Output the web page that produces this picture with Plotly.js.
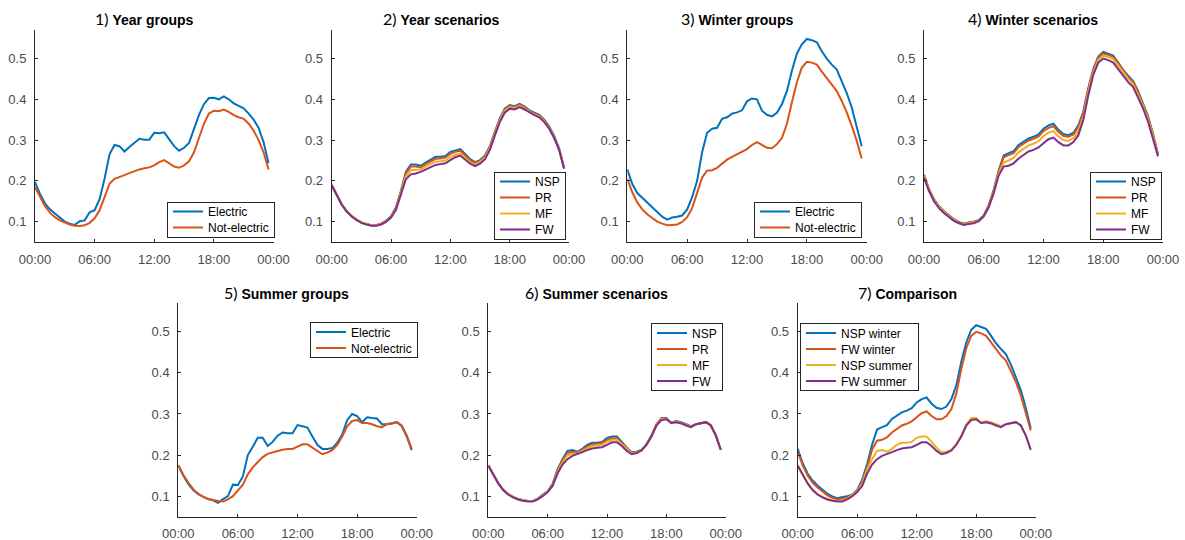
<!DOCTYPE html>
<html>
<head>
<meta charset="utf-8">
<script src="https://cdn.plot.ly/plotly-3.0.1.min.js"></script>
<style>html,body{margin:0;padding:0;background:#fff;}#chart{width:1185px;height:540px;}</style>
</head>
<body>
<div id="chart"></div>
<script>
// ---- data (half-hourly, 00:00 .. 23:30) ----
const halfHours = [0,0.5,1,1.5,2,2.5,3,3.5,4,4.5,5,5.5,6,6.5,7,7.5,8,8.5,9,9.5,10,10.5,11,11.5,
  12,12.5,13,13.5,14,14.5,15,15.5,16,16.5,17,17.5,18,18.5,19,19.5,20,20.5,21,21.5,22,22.5,23,23.5];
const xTickVals = [0,6,12,18,24];
const xTickText = ['00:00','06:00','12:00','18:00','00:00'];
const yTickVals = [0.1,0.2,0.3,0.4,0.5];

const panelTitles = ['Year groups','Year scenarios','Winter groups','Winter scenarios','Summer groups','Summer scenarios','Comparison'];
const groupNames = ['Electric','Not-electric'];
const scenarioNames = ['NSP','PR','MF','FW'];
const comparisonNames = ['NSP winter','FW winter','NSP summer','FW summer'];

const yearElectric = [.197,.168,.145,.130,.120,.110,.100,.095,.092,.101,.103,.123,.128,.155,.205,.265,.288,.285,.272,.283,.293,.303,.301,.301,
  .318,.317,.319,.303,.285,.274,.281,.293,.325,.362,.388,.403,.404,.400,.407,.400,.390,.383,.378,.365,.350,.330,.295,.243];
const yearNotElectric = [.185,.160,.138,.122,.111,.103,.097,.093,.090,.089,.091,.097,.108,.128,.160,.193,.205,.209,.214,.219,.224,.228,.231,.233,
  .238,.246,.251,.243,.235,.232,.238,.248,.270,.305,.340,.365,.372,.371,.375,.369,.361,.356,.352,.340,.323,.300,.270,.228];

const yearNSP = [.190,.165,.143,.126,.114,.105,.098,.094,.091,.091,.095,.102,.113,.135,.175,.222,.240,.240,.237,.245,.252,.259,.259,.261,
  .271,.275,.278,.266,.253,.246,.251,.262,.285,.320,.353,.377,.386,.383,.389,.382,.373,.367,.362,.350,.333,.310,.280,.232];
const yearPR = [.190,.165,.143,.126,.114,.105,.098,.094,.091,.091,.095,.101,.112,.133,.172,.218,.235,.235,.233,.241,.248,.254,.255,.257,
  .266,.271,.274,.262,.250,.244,.249,.260,.283,.318,.351,.375,.384,.381,.387,.380,.371,.365,.360,.348,.331,.308,.278,.231];
const yearMF = [.190,.165,.143,.126,.114,.105,.098,.094,.091,.091,.094,.100,.111,.131,.168,.211,.226,.227,.228,.235,.241,.247,.248,.250,
  .258,.264,.267,.257,.246,.240,.246,.257,.280,.315,.348,.372,.381,.379,.384,.377,.369,.363,.358,.346,.330,.307,.277,.231];
const yearFW = [.189,.164,.142,.125,.113,.104,.097,.093,.090,.090,.093,.099,.110,.129,.164,.204,.216,.218,.222,.228,.234,.239,.241,.243,
  .251,.258,.262,.252,.242,.236,.242,.253,.276,.311,.344,.367,.377,.375,.381,.375,.367,.361,.356,.344,.328,.305,.276,.230];

const winterElectric = [.228,.192,.170,.158,.147,.135,.122,.112,.105,.110,.112,.115,.130,.160,.200,.270,.318,.328,.330,.352,.356,.365,.368,.373,
  .395,.402,.400,.372,.362,.358,.367,.388,.420,.470,.512,.535,.548,.545,.540,.518,.500,.485,.473,.445,.415,.380,.335,.285];
const winterNotElectric = [.205,.172,.147,.130,.118,.108,.100,.095,.091,.092,.093,.099,.111,.133,.168,.208,.225,.226,.232,.242,.252,.259,.265,.270,
  .278,.288,.295,.288,.281,.280,.290,.305,.340,.392,.442,.478,.492,.490,.485,.468,.452,.436,.420,.396,.368,.335,.298,.255];

const winterNSP = [.215,.180,.155,.138,.126,.115,.106,.099,.095,.098,.100,.104,.115,.140,.178,.225,.262,.268,.273,.288,.296,.304,.308,.314,
  .328,.336,.340,.325,.315,.312,.318,.336,.370,.428,.474,.505,.516,.512,.507,.490,.472,.458,.445,.420,.390,.358,.315,.265];
const winterPR = [.214,.179,.154,.137,.125,.114,.105,.098,.094,.097,.099,.103,.114,.139,.176,.222,.258,.263,.268,.283,.291,.299,.303,.309,
  .322,.330,.334,.320,.310,.308,.314,.332,.366,.425,.471,.502,.512,.509,.504,.487,.469,.455,.442,.417,.387,.355,.313,.264];
const winterMF = [.212,.178,.153,.136,.124,.113,.104,.097,.093,.096,.098,.102,.114,.137,.173,.218,.245,.250,.256,.270,.279,.287,.291,.297,
  .310,.318,.322,.309,.300,.298,.305,.322,.358,.418,.466,.497,.507,.504,.499,.482,.465,.450,.437,.412,.383,.351,.310,.262];
const winterFW = [.208,.175,.150,.133,.121,.111,.102,.096,.092,.094,.096,.101,.113,.135,.170,.213,.235,.237,.243,.255,.263,.272,.276,.282,
  .292,.302,.306,.295,.287,.287,.295,.312,.350,.410,.460,.490,.500,.496,.490,.473,.456,.442,.430,.405,.378,.345,.305,.260];

const summerElectric = [.175,.150,.130,.115,.105,.098,.093,.090,.084,.093,.100,.128,.127,.148,.200,.220,.242,.242,.222,.232,.247,.255,.253,.253,
  .273,.270,.267,.245,.225,.215,.215,.217,.230,.250,.285,.300,.295,.280,.292,.290,.289,.275,.275,.277,.280,.270,.245,.212];
const summerNotElectric = [.175,.152,.133,.117,.106,.098,.093,.090,.088,.087,.092,.100,.113,.128,.153,.170,.183,.195,.203,.207,.210,.213,.215,.215,
  .220,.226,.226,.218,.210,.202,.206,.212,.225,.245,.270,.283,.285,.278,.278,.275,.270,.268,.275,.278,.280,.272,.248,.215];

const summerNSP = [.175,.152,.132,.116,.105,.098,.093,.090,.088,.088,.094,.104,.112,.130,.165,.190,.210,.212,.208,.215,.225,.230,.230,.232,
  .242,.245,.245,.232,.218,.207,.208,.213,.227,.248,.275,.290,.290,.278,.283,.280,.275,.270,.275,.278,.280,.272,.248,.213];
const summerPR = [.175,.152,.132,.116,.105,.098,.093,.090,.088,.088,.093,.103,.111,.128,.162,.186,.205,.208,.206,.212,.221,.226,.227,.229,
  .237,.241,.241,.229,.216,.205,.207,.212,.226,.247,.274,.289,.289,.278,.282,.279,.274,.269,.275,.278,.280,.272,.248,.213];
const summerMF = [.175,.152,.132,.116,.105,.098,.093,.090,.088,.088,.093,.102,.111,.127,.159,.182,.199,.203,.204,.210,.217,.222,.223,.225,
  .232,.237,.237,.226,.213,.204,.206,.212,.226,.246,.273,.288,.288,.278,.281,.278,.273,.269,.275,.278,.280,.272,.248,.213];
const summerFW = [.174,.151,.131,.115,.104,.097,.092,.089,.087,.087,.092,.100,.110,.125,.155,.177,.190,.198,.202,.207,.212,.216,.218,.219,
  .225,.231,.231,.222,.210,.202,.205,.211,.225,.245,.272,.285,.287,.278,.280,.277,.272,.268,.275,.278,.280,.272,.248,.213];

// ---- styling / layout ----
const W = 1185, H = 540;
const colors = ['#0072BD','#D95319','#EDB120','#7E2F8E'];
const FONT = 'Liberation Sans, Arial, Helvetica, sans-serif';

// panel boxes in pixels: [left, right, top, bottom]
const boxes = [
  [35, 273.5, 30, 242], [331.7, 569, 30, 242], [627.3, 866.7, 30, 242], [924, 1163, 30, 242],
  [178.3, 416.7, 303, 516.7], [488.3, 725.7, 303, 516.7], [797.7, 1035.7, 303, 516.7]
];
const titlePos = [[144.5,18.5],[441,18.5],[736.5,18.5],[1033,18.5],[286.7,292],[596.7,292],[907.5,292]];
// legend anchor: [x left, y, anchor]
const legendPos = [
  [167, 237.5, 'bottom'], [494, 239.5, 'bottom'], [754, 237.5, 'bottom'], [1090, 239.5, 'bottom'],
  [310, 322, 'top'], [651, 323, 'top'], [800, 323, 'top']
];

const panelSeries = [
  [yearElectric, yearNotElectric],
  [yearNSP, yearPR, yearMF, yearFW],
  [winterElectric, winterNotElectric],
  [winterNSP, winterPR, winterMF, winterFW],
  [summerElectric, summerNotElectric],
  [summerNSP, summerPR, summerMF, summerFW],
  [winterNSP, winterFW, summerNSP, summerFW]
];
const panelNames = [groupNames, scenarioNames, groupNames, scenarioNames, groupNames, scenarioNames, comparisonNames];

const traces = [];
const layout = {
  width: W, height: H,
  margin: {l:0, r:0, t:0, b:0},
  paper_bgcolor: '#fff', plot_bgcolor: '#fff',
  font: {family: FONT, color: '#262626'},
  annotations: [],
  showlegend: true
};
const legendIds = [];

boxes.forEach((b, i) => {
  const n = i + 1;
  const sfx = n === 1 ? '' : String(n);
  const legName = 'legend' + sfx;
  legendIds.push(legName);
  panelSeries[i].forEach((ys, k) => {
    traces.push({
      type: 'scatter', mode: 'lines',
      x: halfHours, y: ys,
      name: panelNames[i][k],
      xaxis: 'x' + sfx, yaxis: 'y' + sfx,
      legend: legName,
      line: {color: colors[k], width: 2},
      hoverinfo: 'skip'
    });
  });
  const axCommon = {
    showline: true, linecolor: '#262626', linewidth: 1,
    ticks: 'inside', ticklen: 3, tickwidth: 1, tickcolor: '#262626',
    showgrid: false, zeroline: false, mirror: false, fixedrange: true,
    tickfont: {family: FONT, size: 13, color: '#4a4a4a'}
  };
  layout['xaxis' + sfx] = Object.assign({}, axCommon, {
    domain: [b[0] / W, b[1] / W],
    range: [0, 24],
    tickmode: 'array', tickvals: xTickVals, ticktext: xTickText,
    anchor: 'y' + sfx, ticklabelstandoff: 5
  });
  layout['yaxis' + sfx] = Object.assign({}, axCommon, {
    domain: [1 - b[3] / H, 1 - b[2] / H],
    range: [0.05, 0.57],
    tickmode: 'array', tickvals: yTickVals,
    anchor: 'x' + sfx, ticklabelstandoff: 5
  });
  const lp = legendPos[i];
  layout[legName] = {
    x: lp[0] / W, y: 1 - lp[1] / H,
    xanchor: 'left', yanchor: lp[2],
    xref: 'paper', yref: 'paper',
    bgcolor: '#fff', bordercolor: '#262626', borderwidth: 1,
    font: {family: FONT, size: 12, color: '#000'},
    itemclick: false, itemdoubleclick: false,
    tracegroupgap: 0
  };
  layout.annotations.push({
    xref: 'paper', yref: 'paper',
    x: titlePos[i][0] / W, y: 1 - titlePos[i][1] / H,
    xanchor: 'center', yanchor: 'middle',
    showarrow: false,
    text: '<span style="font-family:Lato, Noto Sans, sans-serif;font-size:16px;">' + n + ')</span> <b>' + panelTitles[i] + '</b>',
    font: {family: FONT, size: 14, color: '#000'}
  });
});

// tighten legend row spacing (MATLAB-like compact legends)
function localY(el, root) {
  let y = 0, e = el;
  while (e && e !== root) {
    if (e.transform && e.transform.baseVal && e.transform.baseVal.numberOfItems) {
      y += e.transform.baseVal.consolidate().matrix.f;
    }
    e = e.parentNode;
  }
  return y;
}
function compactLegend(id, anchor) {
  const g = document.querySelector('#chart g.' + id);
  if (!g || g.getAttribute('data-compact')) return;
  const bg = g.querySelector('rect.bg');
  const items = Array.from(g.querySelectorAll('g.traces'));
  if (!bg || !items.length) return;
  const step = 16;
  const nItems = items.length;
  const y0 = parseFloat(bg.getAttribute('y')) || 0;
  const h0 = parseFloat(bg.getAttribute('height'));
  const newH = nItems * step + 3;
  if (!(h0 > newH)) return;
  bg.setAttribute('height', newH);
  items.forEach((el, idx) => {
    const desired = y0 + newH / 2 + (idx - (nItems - 1) / 2) * step;
    const cur = localY(el, g);
    const m = el.transform.baseVal.numberOfItems ? el.transform.baseVal.consolidate().matrix : {e: 0, f: 0};
    el.setAttribute('transform', 'translate(' + m.e + ',' + (m.f + desired - cur) + ')');
  });
  if (anchor === 'bottom' && g.transform.baseVal.numberOfItems) {
    const gm = g.transform.baseVal.consolidate().matrix;
    g.setAttribute('transform', 'translate(' + gm.e + ',' + (gm.f + (h0 - newH)) + ')');
  }
  g.setAttribute('data-compact', '1');
}

Plotly.newPlot('chart', traces, layout, {staticPlot: true, displayModeBar: false}).then(() => {
  legendIds.forEach((id, i) => compactLegend(id, legendPos[i][2]));
});
</script>
</body>
</html>
